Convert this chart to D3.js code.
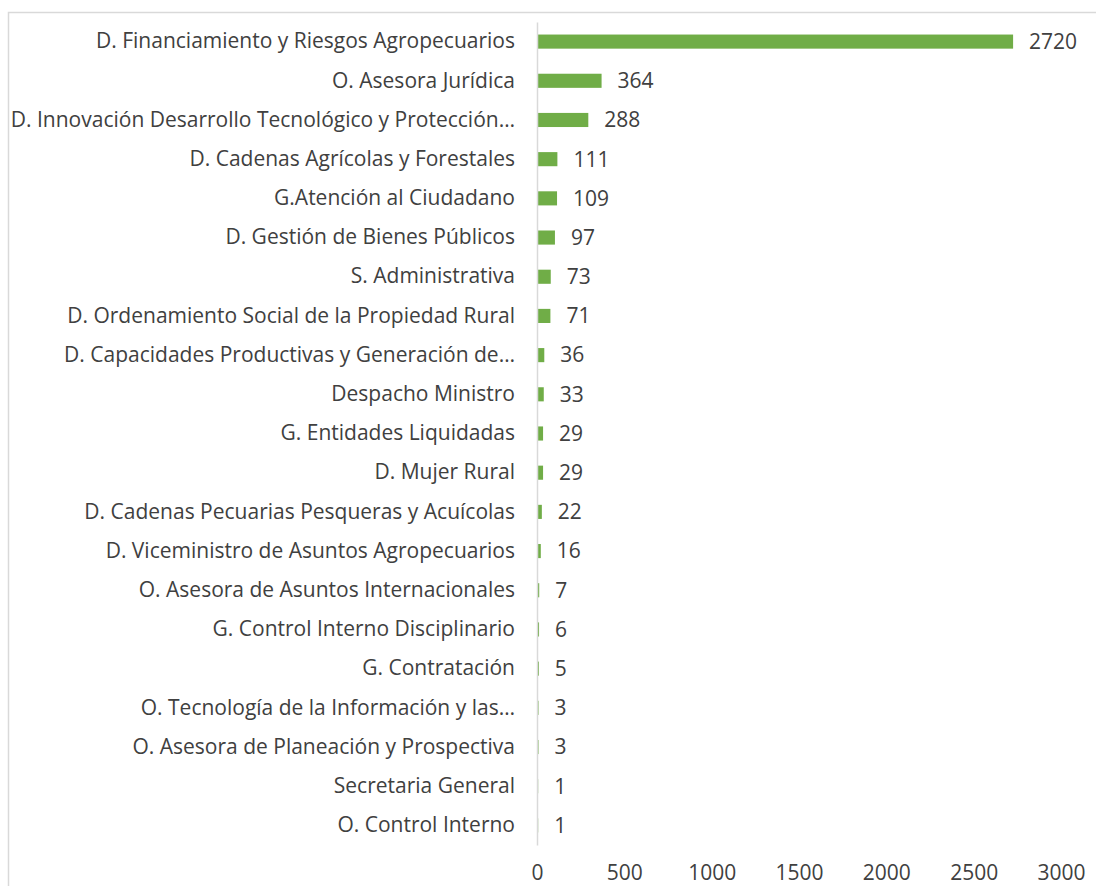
<!DOCTYPE html>
<html>
<head>
<meta charset="utf-8">
<script src="https://cdn.jsdelivr.net/npm/d3@7"></script>
<style>
  body { margin: 0; background: #fff; }
  svg { display: block; font-family: "Open Sans", sans-serif; }
</style>
</head>
<body>
<div id="chart"></div>
<script>
// Data
const categories = [
    "D. Financiamiento y Riesgos Agropecuarios",
    "O. Asesora Jurídica",
    "D. Innovación Desarrollo Tecnológico y Protección…",
    "D. Cadenas Agrícolas y Forestales",
    "G.Atención al Ciudadano",
    "D. Gestión de Bienes Públicos",
    "S. Administrativa",
    "D. Ordenamiento Social de la Propiedad Rural",
    "D. Capacidades Productivas y Generación de…",
    "Despacho Ministro",
    "G. Entidades Liquidadas",
    "D. Mujer Rural",
    "D. Cadenas Pecuarias Pesqueras y Acuícolas",
    "D. Viceministro de Asuntos Agropecuarios",
    "O. Asesora de Asuntos Internacionales",
    "G. Control Interno Disciplinario",
    "G. Contratación",
    "O. Tecnología de la Información y las…",
    "O. Asesora de Planeación y Prospectiva",
    "Secretaria General",
    "O. Control Interno"
];
const values = [2720, 364, 288, 111, 109, 97, 73, 71, 36, 33, 29, 29, 22, 16, 7, 6, 5, 3, 3, 1, 1];
const xTicks = [0, 500, 1000, 1500, 2000, 2500, 3000];

const W = 1096, H = 886;
const margin = { top: 22, right: 35, bottom: 41, left: 537 };
const textColor = "#404040";
const fontSize = "21px";

const svg = d3.select("#chart").append("svg")
    .attr("width", W)
    .attr("height", H);

// chart area border (cropped on the right and bottom)
svg.append("rect")
    .attr("x", 8.5).attr("y", 12.5)
    .attr("width", W + 20).attr("height", H + 20)
    .attr("fill", "none")
    .attr("stroke", "#d9d9d9")
    .attr("stroke-width", 1.5);

const x = d3.scaleLinear().domain([0, 3000]).range([margin.left, 1061]);
const y = d3.scaleBand().domain(categories).range([margin.top, H - margin.bottom]).paddingInner(0.64).paddingOuter(0.32);

// bars
svg.selectAll(".bar")
    .data(values)
    .join("rect")
    .attr("class", "bar")
    .attr("x", x(0) + 1)
    .attr("y", (d, i) => y(categories[i]))
    .attr("width", d => Math.max(0, x(d) - x(0)))
    .attr("height", y.bandwidth())
    .attr("fill", "#70ad47");

// value labels
svg.selectAll(".val")
    .data(values)
    .join("text")
    .attr("class", "val")
    .attr("x", d => x(d) + 17)
    .attr("y", (d, i) => y(categories[i]) + y.bandwidth() / 2)
    .attr("dy", "0.35em")
    .attr("fill", textColor)
    .style("font-size", fontSize)
    .text(d => d);

// category axis
const yAxis = svg.append("g")
    .attr("transform", `translate(${margin.left},0)`)
    .call(d3.axisLeft(y).tickSize(0).tickPadding(22));
yAxis.select(".domain").attr("stroke", "#d9d9d9").attr("stroke-width", 1.5);
yAxis.selectAll("text").attr("fill", textColor).style("font-size", fontSize).style("font-family", "Open Sans");

// value axis (labels only)
const xAxis = svg.append("g")
    .attr("transform", `translate(0,${H - margin.bottom - 2})`)
    .call(d3.axisBottom(x).tickValues(xTicks).tickFormat(d3.format("d")).tickSize(0).tickPadding(22));
xAxis.select(".domain").remove();
xAxis.selectAll("text").attr("fill", textColor).style("font-size", fontSize).style("font-family", "Open Sans");
</script>
</body>
</html>
